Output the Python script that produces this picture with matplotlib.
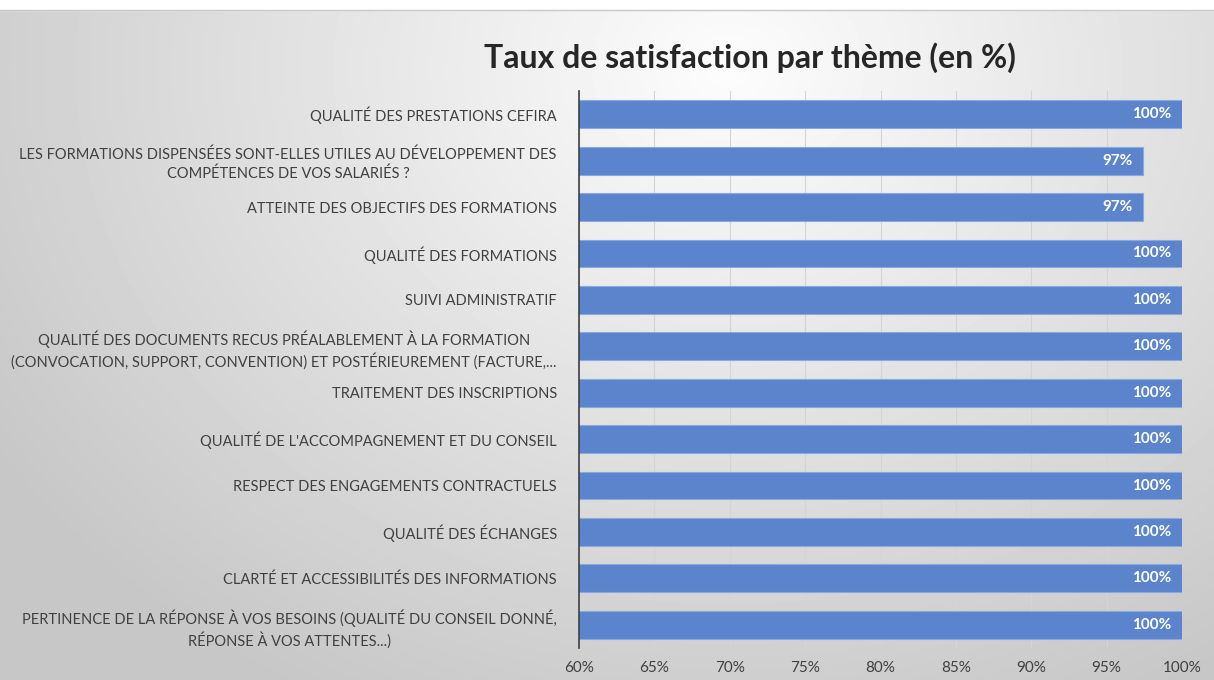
import numpy as np
import matplotlib.pyplot as plt

# Data (top to bottom)
themes = [
    "QUALITÉ DES PRESTATIONS CEFIRA",
    "LES FORMATIONS DISPENSÉES SONT-ELLES UTILES AU DÉVELOPPEMENT DES\nCOMPÉTENCES DE VOS SALARIÉS ?",
    "ATTEINTE DES OBJECTIFS DES FORMATIONS",
    "QUALITÉ DES FORMATIONS",
    "SUIVI ADMINISTRATIF",
    "QUALITÉ DES DOCUMENTS RECUS PRÉALABLEMENT À LA FORMATION\n(CONVOCATION, SUPPORT, CONVENTION) ET POSTÉRIEUREMENT (FACTURE,...",
    "TRAITEMENT DES INSCRIPTIONS",
    "QUALITÉ DE L'ACCOMPAGNEMENT ET DU CONSEIL",
    "RESPECT DES ENGAGEMENTS CONTRACTUELS",
    "QUALITÉ DES ÉCHANGES",
    "CLARTÉ ET ACCESSIBILITÉS DES INFORMATIONS",
    "PERTINENCE DE LA RÉPONSE À VOS BESOINS (QUALITÉ DU CONSEIL DONNÉ,\nRÉPONSE À VOS ATTENTES...)",
]
satisfaction = [100, 97.4, 97.4, 100, 100, 100, 100, 100, 100, 100, 100, 100]
x_ticks = [60, 65, 70, 75, 80, 85, 90, 95, 100]

plt.rcParams['font.family'] = ['Lato', 'DejaVu Sans']

fig = plt.figure(figsize=(12.14, 6.8), dpi=100)

# Background gradient (light centre-top, grey edges)
bg = fig.add_axes([0, 0, 1, 1])
yy, xx = np.mgrid[0:1:340j, 0:1:607j]
d = np.sqrt(((xx - 0.6) / 0.75) ** 2 + ((yy - 0.1) / 1.1) ** 2)
shade = np.clip(0.99 - 0.22 * d, 0.78, 0.99)
bg.imshow(shade, cmap='gray', vmin=0, vmax=1, aspect='auto', extent=[0, 1, 1, 0])
bg.axhspan(0, 0.014, color='white')
bg.axhline(0.015, color='#c8c8c8', lw=1)
bg.set_xlim(0, 1)
bg.set_ylim(1, 0)
bg.axis('off')

ax = fig.add_axes([579 / 1214, 1 - 648 / 680, (1182 - 579) / 1214, (648 - 91) / 680])
ax.patch.set_alpha(0)
y = np.arange(len(themes))
ax.barh(y, satisfaction, height=0.6, color='#5b84cc', edgecolor='#8aa9e0', linewidth=0.8, zorder=3)
for yi, v in zip(y, satisfaction):
    ax.text(v - 0.7, yi, f"{v:.0f}%", ha='right', va='center', color='white',
            fontsize=11, fontweight='bold', zorder=4)

ax.set_xlim(60, 100)
ax.set_ylim(len(themes) - 0.5, -0.5)
ax.set_xticks(x_ticks)
ax.set_xticklabels([f"{t}%" for t in x_ticks], fontsize=11, color='#404040')
ax.set_yticks(y)
ax.set_yticklabels(themes, fontsize=10.5, color='#404040', ha='right', multialignment='center',
                   linespacing=1.35)
ax.tick_params(axis='y', length=0, pad=16)
ax.tick_params(axis='x', length=0, pad=9)
ax.grid(axis='x', color='#d4d4d4', lw=0.8, zorder=0)
for s in ['top', 'right', 'bottom']:
    ax.spines[s].set_visible(False)
ax.spines['left'].set_color('#404040')
ax.spines['left'].set_linewidth(1.2)
ax.spines['left'].set_zorder(5)

fig.text(750 / 1214, 1 - 58 / 680, "Taux de satisfaction par thème (en %)", ha='center', va='center',
         fontsize=23, fontweight='bold', color='#262626')

fig.savefig("out.png", dpi=100)
